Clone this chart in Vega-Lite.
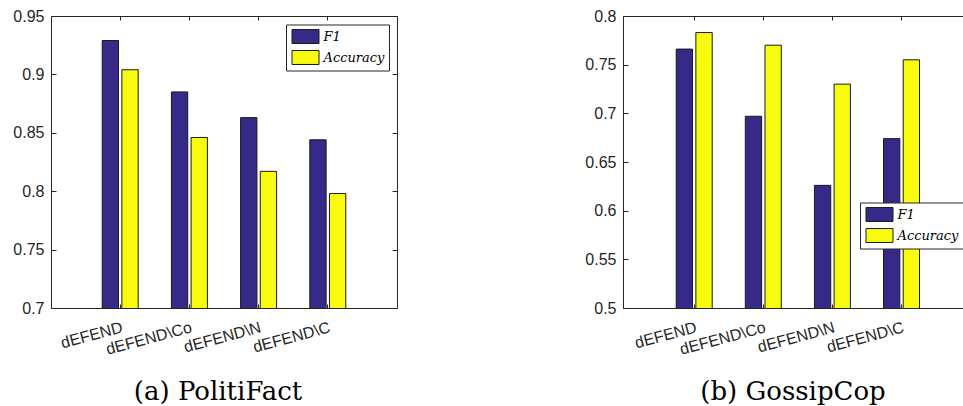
{
  "$schema": "https://vega.github.io/schema/vega-lite/v6.json",
  "background": "white",
  "padding": {"left": 12, "top": 8, "right": 0, "bottom": 0},
  "bounds": "flush",
  "spacing": 226,
  "config": {
    "view": {"stroke": null},
    "axis": {
      "labelFont": "Liberation Sans",
      "labelFontSize": 16,
      "labelColor": "#262626",
      "domainColor": "#262626",
      "tickColor": "#262626",
      "domainWidth": 1,
      "tickWidth": 1,
      "grid": false,
      "title": null
    },
    "legend": {
      "orient": "none",
      "title": null,
      "fillColor": "white",
      "strokeColor": "#262626",
      "padding": 4,
      "rowPadding": 3,
      "symbolType": "M-1.8,-0.93H1.8V0.93H-1.8Z",
      "symbolSize": 225,
      "symbolOffset": 7.5,
      "symbolStrokeColor": "#1a1a1a",
      "symbolStrokeWidth": 1,
      "symbolOpacity": 1,
      "labelFont": "DejaVu Serif",
      "labelFontStyle": "italic",
      "labelFontSize": 13,
      "labelColor": "#000000",
      "labelOffset": 10
    },
    "title": {
      "font": "DejaVu Serif",
      "fontSize": 26,
      "fontWeight": "normal",
      "color": "#000000",
      "orient": "bottom",
      "anchor": "middle",
      "offset": 22
    }
  },
  "resolve": {"scale": {"color": "independent"}, "legend": {"color": "independent"}},
  "hconcat": [
    {
      "width": 346,
      "height": 292,
      "title": {"text": "(a) PolitiFact", "dx": -6},
      "data": {"values": [
        {"method": "dEFEND", "metric": "F1", "value": 0.929},
        {"method": "dEFEND", "metric": "Accuracy", "value": 0.904},
        {"method": "dEFEND\\Co", "metric": "F1", "value": 0.885},
        {"method": "dEFEND\\Co", "metric": "Accuracy", "value": 0.846},
        {"method": "dEFEND\\N", "metric": "F1", "value": 0.863},
        {"method": "dEFEND\\N", "metric": "Accuracy", "value": 0.817},
        {"method": "dEFEND\\C", "metric": "F1", "value": 0.844},
        {"method": "dEFEND\\C", "metric": "Accuracy", "value": 0.798}
      ]},
      "layer": [
        {
          "mark": {"type": "bar", "stroke": "#1a1a1a", "strokeWidth": 1, "clip": true},
          "encoding": {
            "x": {
              "field": "method", "type": "nominal",
              "sort": ["dEFEND", "dEFEND\\Co", "dEFEND\\N", "dEFEND\\C"],
              "scale": {"paddingInner": 0.48, "paddingOuter": 0.74, "align": 0.5},
              "axis": {"orient": "bottom", "labelAngle": -15, "labelAlign": "right", "labelBaseline": "top", "tickSize": -4, "labelPadding": 15}
            },
            "xOffset": {"field": "metric", "type": "nominal", "sort": ["F1", "Accuracy"], "scale": {"paddingInner": 0.17, "paddingOuter": 0}},
            "y": {
              "field": "value", "type": "quantitative",
              "scale": {"domain": [0.7, 0.95], "nice": false, "zero": false},
              "axis": {"orient": "left", "values": [0.7, 0.75, 0.8, 0.85, 0.9, 0.95], "format": "~g", "tickSize": -5, "labelPadding": 12}
            },
            "color": {
              "field": "metric", "type": "nominal", "sort": ["F1", "Accuracy"],
              "scale": {"domain": ["F1", "Accuracy"], "range": ["#352a87", "#f9fb0e"]},
              "legend": {"legendX": 235, "legendY": 8.5}
            }
          }
        },
        {
          "mark": {"type": "bar", "opacity": 0, "clip": true},
          "encoding": {
            "x": {
              "field": "method", "type": "nominal",
              "sort": ["dEFEND", "dEFEND\\Co", "dEFEND\\N", "dEFEND\\C"],
              "axis": {"orient": "top", "labels": false, "tickSize": -4}
            },
            "y": {
              "field": "value", "type": "quantitative",
              "axis": {"orient": "right", "labels": false, "values": [0.7, 0.75, 0.8, 0.85, 0.9, 0.95], "tickSize": -5}
            }
          }
        }
      ],
      "resolve": {"axis": {"x": "independent", "y": "independent"}}
    },
    {
      "width": 340,
      "height": 292,
      "title": {"text": "(b) GossipCop"},
      "data": {"values": [
        {"method": "dEFEND", "metric": "F1", "value": 0.766},
        {"method": "dEFEND", "metric": "Accuracy", "value": 0.783},
        {"method": "dEFEND\\Co", "metric": "F1", "value": 0.697},
        {"method": "dEFEND\\Co", "metric": "Accuracy", "value": 0.770},
        {"method": "dEFEND\\N", "metric": "F1", "value": 0.626},
        {"method": "dEFEND\\N", "metric": "Accuracy", "value": 0.730},
        {"method": "dEFEND\\C", "metric": "F1", "value": 0.674},
        {"method": "dEFEND\\C", "metric": "Accuracy", "value": 0.755}
      ]},
      "layer": [
        {
          "mark": {"type": "bar", "stroke": "#1a1a1a", "strokeWidth": 1, "clip": true},
          "encoding": {
            "x": {
              "field": "method", "type": "nominal",
              "sort": ["dEFEND", "dEFEND\\Co", "dEFEND\\N", "dEFEND\\C"],
              "scale": {"paddingInner": 0.48, "paddingOuter": 0.7, "align": 0.55},
              "axis": {"orient": "bottom", "labelAngle": -15, "labelAlign": "right", "labelBaseline": "top", "tickSize": -4, "labelPadding": 15}
            },
            "xOffset": {"field": "metric", "type": "nominal", "sort": ["F1", "Accuracy"], "scale": {"paddingInner": 0.17, "paddingOuter": 0}},
            "y": {
              "field": "value", "type": "quantitative",
              "scale": {"domain": [0.5, 0.8], "nice": false, "zero": false},
              "axis": {"orient": "left", "values": [0.5, 0.55, 0.6, 0.65, 0.7, 0.75, 0.8], "format": "~g", "tickSize": -5, "labelPadding": 12}
            },
            "color": {
              "field": "metric", "type": "nominal", "sort": ["F1", "Accuracy"],
              "scale": {"domain": ["F1", "Accuracy"], "range": ["#352a87", "#f9fb0e"]},
              "legend": {"legendX": 237, "legendY": 186.5}
            }
          }
        },
        {
          "mark": {"type": "bar", "opacity": 0, "clip": true},
          "encoding": {
            "x": {
              "field": "method", "type": "nominal",
              "sort": ["dEFEND", "dEFEND\\Co", "dEFEND\\N", "dEFEND\\C"],
              "axis": {"orient": "top", "labels": false, "tickSize": -4}
            },
            "y": {
              "field": "value", "type": "quantitative",
              "axis": null
            }
          }
        }
      ],
      "resolve": {"axis": {"x": "independent", "y": "independent"}}
    }
  ]
}
